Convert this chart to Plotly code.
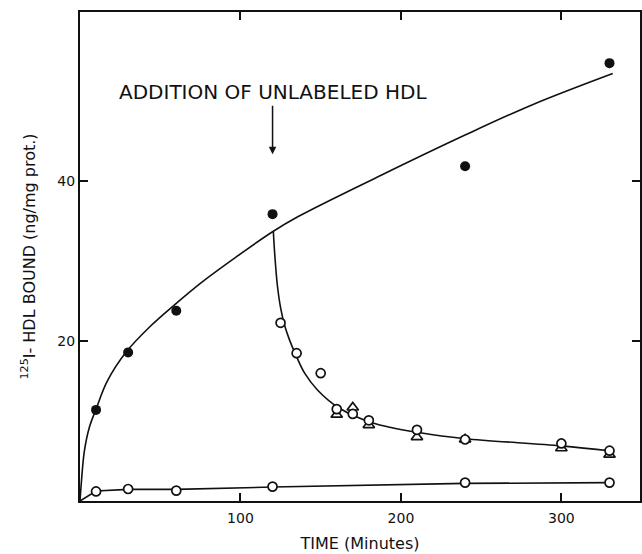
import plotly.graph_objects as go

# ---- data ----
# Total binding of 125I-HDL (filled circles)
total_t = [10, 30, 60, 120, 240, 330]
total_v = [11.4, 18.6, 23.8, 35.9, 41.9, 54.8]

# Control / low-binding series (open circles, bottom)
low_t = [10, 30, 60, 120, 240, 330]
low_v = [1.2, 1.5, 1.3, 1.8, 2.3, 2.3]

# After addition of unlabeled HDL (open circles)
chase_c_t = [125, 135, 150, 160, 170, 180, 210, 240, 300, 330]
chase_c_v = [22.3, 18.5, 16.0, 11.5, 10.9, 10.1, 8.9, 7.7, 7.2, 6.3]

# After addition of unlabeled HDL (open triangles)
chase_tri_t = [160, 170, 180, 210, 240, 300, 330]
chase_tri_v = [10.8, 11.7, 9.5, 8.0, 7.7, 6.6, 5.8]

# Drawn fitted curves
fit_up_t = [0, 0.6, 2.7, 5.8, 10, 17, 29, 44, 58, 76, 97, 120, 136, 188, 240, 282, 332]
fit_up_v = [0, 1.7, 6.2, 9.2, 11.5, 15.0, 18.7, 21.9, 24.4, 27.4, 30.5, 33.7, 35.6, 40.8, 45.8, 49.6, 53.5]

fit_down_t = [120.5, 121.5, 123, 125, 127.5, 130.5, 134, 140, 148, 161, 182, 213, 240, 300, 331]
fit_down_v = [33.7, 30.5, 27.0, 24.2, 22.0, 20.2, 18.5, 16.0, 13.9, 11.7, 9.8, 8.5, 7.8, 6.9, 6.25]

fit_low_t = [0, 10, 30, 60, 120, 240, 330]
fit_low_v = [0, 1.25, 1.45, 1.45, 1.75, 2.2, 2.3]

x_ticks = [100, 200, 300]
y_ticks = [20, 40]

FONT = "DejaVu Sans"
BLACK = "#111111"

fig = go.Figure()

line_style = dict(color=BLACK, width=1.6, shape="spline", smoothing=1.0)
fig.add_trace(go.Scatter(x=fit_up_t, y=fit_up_v, mode="lines", line=line_style))
fig.add_trace(go.Scatter(x=fit_down_t, y=fit_down_v, mode="lines", line=line_style))
fig.add_trace(go.Scatter(x=fit_low_t, y=fit_low_v, mode="lines",
                         line=dict(color=BLACK, width=1.6)))

fig.add_trace(go.Scatter(x=total_t, y=total_v, mode="markers",
                         marker=dict(symbol="circle", size=10, color=BLACK,
                                     line=dict(width=0))))
fig.add_trace(go.Scatter(x=low_t, y=low_v, mode="markers",
                         marker=dict(symbol="circle", size=9, color="white",
                                     line=dict(width=1.7, color=BLACK))))
fig.add_trace(go.Scatter(x=chase_tri_t, y=chase_tri_v, mode="markers",
                         marker=dict(symbol="triangle-up", size=10, color="white",
                                     line=dict(width=1.7, color=BLACK))))
fig.add_trace(go.Scatter(x=chase_c_t, y=chase_c_v, mode="markers",
                         marker=dict(symbol="circle", size=9, color="white",
                                     line=dict(width=1.7, color=BLACK))))

axis_common = dict(showgrid=False, zeroline=False, showline=True, linecolor=BLACK,
                   linewidth=2, mirror="allticks", ticks="inside", ticklen=8,
                   tickwidth=1.6, tickcolor=BLACK,
                   tickfont=dict(family=FONT, size=14, color=BLACK))

fig.update_xaxes(range=[0, 349], tickvals=x_ticks, ticktext=[str(v) for v in x_ticks],
                 ticklabelstandoff=3,
                 title=dict(text="TIME (Minutes)", font=dict(family=FONT, size=16, color=BLACK),
                            standoff=13),
                 **axis_common)
fig.update_yaxes(range=[0, 61.2], tickvals=y_ticks, ticktext=[str(v) for v in y_ticks],
                 title=dict(text="<sup>125</sup>I- HDL BOUND (ng/mg prot.)",
                            font=dict(family=FONT, size=16, color=BLACK), standoff=18),
                 **axis_common)

fig.add_annotation(x=120, y=43.4, xref="x", yref="y", ax=0, ay=-62,
                   text="ADDITION OF UNLABELED HDL", showarrow=True,
                   arrowhead=2, arrowsize=1, arrowwidth=1.5, arrowcolor=BLACK,
                   font=dict(family=FONT, size=20, color=BLACK))

fig.update_layout(width=642, height=554, showlegend=False,
                  margin=dict(l=80, r=0, t=12, b=53),
                  plot_bgcolor="white", paper_bgcolor="white",
                  font=dict(family=FONT, color=BLACK))

fig.write_html("out.html")
